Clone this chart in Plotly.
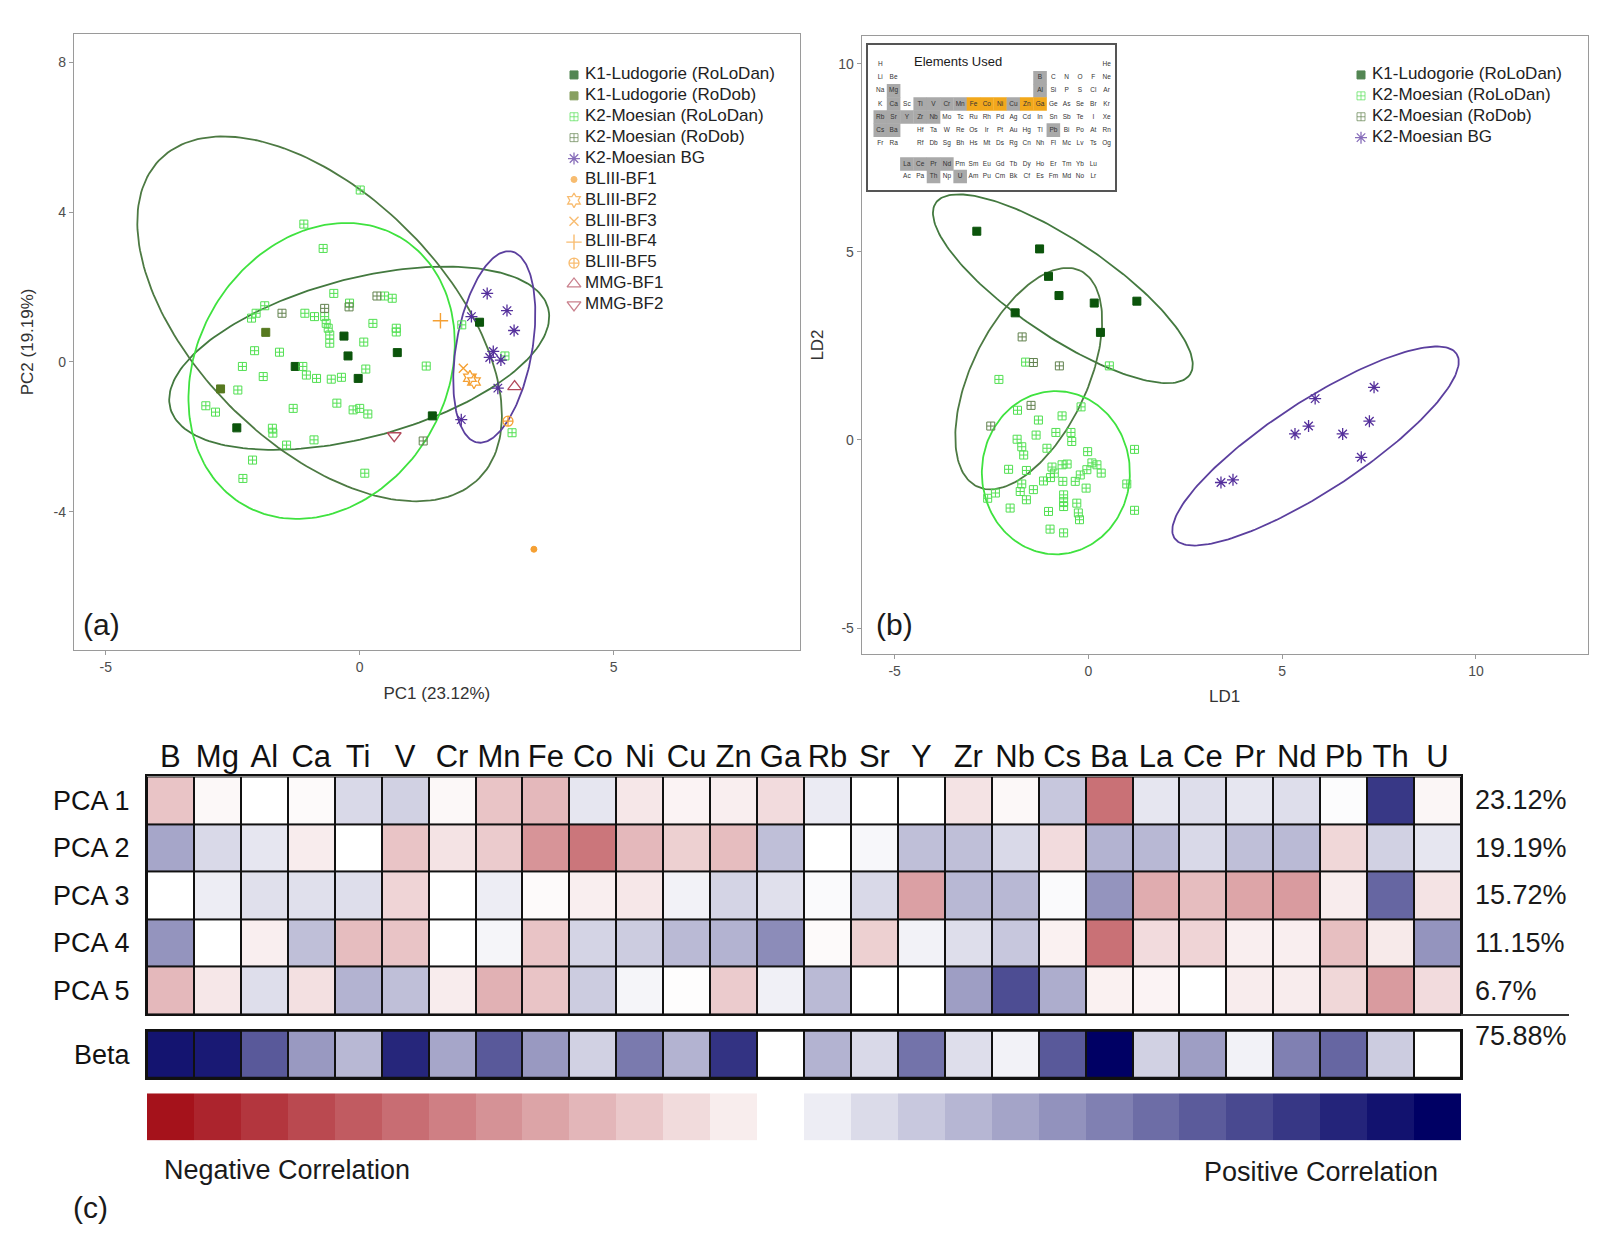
import numpy as np
import plotly.graph_objects as go

W, H = 1606, 1236
PAGE_OFFSET = 8  # the page body margin shifts the figure by this many px
FONT = "Liberation Sans, Arial, sans-serif"

# ---------------- panel (a): PCA scores ----------------
A_K1_ROLODAN_X = [2.36, -0.31, -0.23, 0.74, -1.27, -0.03, 1.43, -2.42]
A_K1_ROLODAN_Y = [1.06, 0.69, 0.16, 0.25, -0.12, -0.44, -1.44, -1.76]
A_K1_RODOB_X = [-1.85, -2.74]
A_K1_RODOB_Y = [0.79, -0.72]
A_K2_ROLODAN_X = [0.01, -1.10, -0.72, -0.51, -0.20, 0.49, 0.64, -1.87, -2.04, -2.13,
                  -1.08, -0.89, -0.69, -0.66, -0.62, 0.26, 0.72, 0.72, -0.59, -0.59,
                  0.08, -2.07, -1.58, -1.12, -1.05, -0.85, -0.56, -0.36, 0.12, 1.31,
                  -2.31, -1.90, -2.40, -3.03, -2.84, -1.31, -0.45, -0.13, 0.00, 0.16,
                  -1.72, -1.71, -0.90, -1.44, -2.11, -2.30, 0.10, 2.01, 2.86, 3.00]
A_K2_ROLODAN_Y = [4.59, 3.68, 3.03, 1.83, 1.57, 1.76, 1.70, 1.50, 1.30, 1.17,
                  1.30, 1.21, 1.21, 1.03, 0.90, 1.03, 0.90, 0.80, 0.72, 0.50,
                  0.53, 0.30, 0.26, -0.12, -0.35, -0.44, -0.46, -0.41, -0.19, -0.11,
                  -0.12, -0.39, -0.75, -1.17, -1.34, -1.24, -1.10, -1.28, -1.24, -1.39,
                  -1.77, -1.90, -2.08, -2.22, -2.62, -3.11, -2.97, 0.99, 0.16, -1.89]
A_K2_RODOB_X = [-1.53, -0.69, -0.21, 0.34, 1.25]
A_K2_RODOB_Y = [1.30, 1.43, 1.47, 1.76, -2.11]
A_K2_BG_X = [2.51, 2.90, 3.04, 2.20, 2.63, 2.56, 2.78, 2.72, 2.00]
A_K2_BG_Y = [1.83, 1.37, 0.84, 1.21, 0.28, 0.12, 0.05, -0.70, -1.54]
A_BF1_X, A_BF1_Y = [3.43], [-5.00]
A_BF2_X, A_BF2_Y = [2.17, 2.25], [-0.42, -0.52]
A_BF3_X, A_BF3_Y = [2.04], [-0.17]
A_BF4_X, A_BF4_Y = [1.59], [1.10]
A_BF5_X, A_BF5_Y = [2.92], [-1.58]
A_MMG1_X, A_MMG1_Y = [3.05], [-0.66]
A_MMG2_X, A_MMG2_Y = [0.68], [-1.97]

# ellipses: centre, major half-vector, minor half-vector (data units)
A_ELLIPSES = [
    ((-0.01, 0.10), (3.72, 1.335), (-0.40, 2.05), "#43793f"),   # K1 RoLoDan
    ((-0.79, 1.15), (3.14, -4.26), (1.74, 2.36), "#4d7a43"),    # K2 RoDob
    ((-0.75, -0.24), (1.53, 3.58), (-2.13, 1.67), "#3fe23f"),   # K2 RoLoDan
    ((2.65, 0.40), (0.332, 2.551), (-0.737, 0.176), "#5b3f9e"), # K2 BG
]

# ---------------- panel (b): LDA scores ----------------
B_K1_ROLODAN_X = [-2.88, -1.26, -1.03, -0.76, 0.15, 1.25, -1.89, 0.31]
B_K1_ROLODAN_Y = [5.55, 5.08, 4.35, 3.84, 3.64, 3.69, 3.38, 2.86]
B_K2_RODOB_X = [-1.71, -1.42, -0.75, -1.48, -2.52]
B_K2_RODOB_Y = [2.74, 2.06, 1.97, 0.92, 0.37]
B_K2_ROLODAN_X = [0.54, -1.62, -2.31, -0.19, -1.83, -1.29, -0.68, -1.35, -0.84, -0.45,
                  -0.43, -1.84, -1.72, -1.67, -1.07, -0.02, 1.19, -2.06, -1.60, -0.94,
                  -0.68, -0.55, 0.09, 0.22, 0.33, -0.04, -0.21, -0.34, -0.88, -0.98,
                  -1.16, -0.66, -0.06, -1.42, -1.72, -1.76, -2.40, -2.60, -1.60, 0.99,
                  -0.64, -0.64, -0.64, -0.30, -0.26, -0.23, -2.02, -1.03, 1.19, -0.99,
                  -0.64]
B_K2_ROLODAN_Y = [1.97, 2.07, 1.61, 0.88, 0.79, 0.53, 0.64, 0.13, 0.20, 0.20,
                  -0.04, 0.02, -0.18, -0.40, -0.22, -0.31, -0.25, -0.78, -0.81, -0.72,
                  -0.66, -0.64, -0.61, -0.66, -0.88, -0.79, -0.93, -1.10, -0.88, -1.00,
                  -1.09, -1.10, -1.28, -1.32, -1.17, -1.37, -1.41, -1.55, -1.59, -1.17,
                  -1.46, -1.64, -1.77, -1.68, -1.94, -2.12, -1.81, -1.90, -1.87, -2.37,
                  -2.47]
B_K2_BG_X = [5.85, 7.37, 5.68, 5.33, 6.56, 7.25, 7.04, 3.42, 3.73]
B_K2_BG_Y = [1.10, 1.40, 0.37, 0.16, 0.16, 0.50, -0.46, -1.13, -1.06]

B_ELLIPSES = [
    ((-0.66, 4.02), (3.28, -2.28), (0.69, 1.05), "#43793f"),
    ((-1.54, 1.63), (1.33, 2.87), (-1.35, 0.66), "#4d7a43"),
    ((-0.84, -0.87), (0.0, 2.17), (1.91, 0.0), "#3fe23f"),
    ((5.86, -0.16), (3.64, 2.45), (-0.64, 1.00), "#5b3f9e"),
]

# axis ticks (hyphen minus, as in the original)
A_XTICKS, A_XTICKTEXT = [-5, 0, 5], ["-5", "0", "5"]
A_YTICKS, A_YTICKTEXT = [-4, 0, 4, 8], ["-4", "0", "4", "8"]
B_XTICKS, B_XTICKTEXT = [-5, 0, 5, 10], ["-5", "0", "5", "10"]
B_YTICKS, B_YTICKTEXT = [-5, 0, 5, 10], ["-5", "0", "5", "10"]

# ---------------- periodic-table inset ----------------
PT_ROWS = [
    "H . . . . . . . . . . . . . . . . He",
    "Li Be . . . . . . . . . . B C N O F Ne",
    "Na Mg . . . . . . . . . . Al Si P S Cl Ar",
    "K Ca Sc Ti V Cr Mn Fe Co Ni Cu Zn Ga Ge As Se Br Kr",
    "Rb Sr Y Zr Nb Mo Tc Ru Rh Pd Ag Cd In Sn Sb Te I Xe",
    "Cs Ba . Hf Ta W Re Os Ir Pt Au Hg Tl Pb Bi Po At Rn",
    "Fr Ra . Rf Db Sg Bh Hs Mt Ds Rg Cn Nh Fl Mc Lv Ts Og",
]
PT_F_ROWS = [
    ". . La Ce Pr Nd Pm Sm Eu Gd Tb Dy Ho Er Tm Yb Lu",
    ". . Ac Pa Th Np U Am Pu Cm Bk Cf Es Fm Md No Lr",
]
PT_F_ROW_POS = [8.6, 9.55]
HIGHLIGHT = ["Fe", "Co", "Ni", "Zn", "Ga"]

# ---------------- panel (c): loadings heatmap ----------------
ELEMENTS = ["B", "Mg", "Al", "Ca", "Ti", "V", "Cr", "Mn", "Fe", "Co", "Ni", "Cu", "Zn", "Ga",
            "Rb", "Sr", "Y", "Zr", "Nb", "Cs", "Ba", "La", "Ce", "Pr", "Nd", "Pb", "Th", "U"]
PCA_ROWS = ["PCA 1", "PCA 2", "PCA 3", "PCA 4", "PCA 5"]
PCA1 = [-0.25, -0.03, 0.0, -0.02, 0.15, 0.18, -0.03, -0.25, -0.30, 0.10, -0.10, -0.05, -0.07, -0.15,
        0.08, 0.0, 0.0, -0.12, -0.03, 0.22, -0.60, 0.10, 0.13, 0.10, 0.13, 0.01, 0.78, -0.04]
PCA2 = [0.35, 0.15, 0.10, -0.08, 0.0, -0.25, -0.12, -0.22, -0.45, -0.58, -0.30, -0.20, -0.28, 0.25,
        0.0, 0.03, 0.25, 0.25, 0.15, -0.15, 0.30, 0.28, 0.15, 0.25, 0.27, -0.17, 0.18, 0.10]
PCA3 = [0.0, 0.07, 0.12, 0.12, 0.13, -0.18, 0.0, 0.07, -0.02, -0.07, -0.10, 0.05, 0.17, 0.12,
        0.02, 0.15, -0.40, 0.28, 0.28, 0.02, 0.42, -0.35, -0.28, -0.38, -0.42, -0.08, 0.60, -0.12]
PCA4 = [0.42, 0.0, -0.07, 0.25, -0.28, -0.25, 0.0, 0.04, -0.25, 0.17, 0.20, 0.27, 0.30, 0.45,
        -0.02, -0.20, 0.05, 0.13, 0.22, -0.06, -0.60, -0.15, -0.18, -0.07, -0.07, -0.27, -0.09, 0.42]
PCA5 = [-0.30, -0.10, 0.13, -0.13, 0.30, 0.25, -0.08, -0.33, -0.25, 0.20, 0.04, -0.01, -0.22, 0.06,
        0.27, 0.0, 0.0, 0.38, 0.70, 0.32, -0.06, -0.05, 0.0, -0.08, -0.08, -0.17, -0.42, -0.15]
BETA = [0.92, 0.90, 0.65, 0.40, 0.28, 0.85, 0.35, 0.65, 0.40, 0.18, 0.52, 0.30, 0.80, 0.0,
        0.30, 0.15, 0.55, 0.13, 0.05, 0.65, 1.0, 0.18, 0.38, 0.05, 0.50, 0.60, 0.20, 0.0]
PCA_VARIANCE = ["23.12%", "19.19%", "15.72%", "11.15%", "6.7%"]
TOTAL_VARIANCE = "75.88%"
SCALE_STEPS = [-1.0, -0.923, -0.846, -0.769, -0.692, -0.615, -0.538, -0.462, -0.385, -0.308,
               -0.231, -0.154, -0.077, 0.0, 0.071, 0.143, 0.214, 0.286, 0.357, 0.429,
               0.5, 0.571, 0.643, 0.714, 0.786, 0.857, 0.929, 1.0]

CORR_SCALE = [[0.0, "#a5121b"], [0.5, "#ffffff"], [1.0, "#000064"]]

DARK_GREEN = "#0b540b"
OLIVE = "#56791f"
LIGHT_GREEN = "#52e052"
GREY_GREEN = "#62824f"
PURPLE = "#55309c"
ORANGE = "#f5a033"
MAROON = "#b24a5b"

# marker style per group: symbol, colour, size, line width
STYLE = {
    "K1-Ludogorie (RoLoDan)": ("square", DARK_GREEN, 8, 1.0),
    "K1-Ludogorie (RoDob)": ("square", OLIVE, 8, 1.0),
    "K2-Moesian (RoLoDan)": ("square-cross-open", LIGHT_GREEN, 8, 1.0),
    "K2-Moesian (RoDob)": ("square-cross-open", GREY_GREEN, 8, 1.0),
    "K2-Moesian BG": ("asterisk-open", PURPLE, 10, 1.3),
    "BLIII-BF1": ("circle", ORANGE, 6, 1.0),
    "BLIII-BF2": ("hexagram-open", ORANGE, 11, 1.3),
    "BLIII-BF3": ("x-thin-open", ORANGE, 9, 1.4),
    "BLIII-BF4": ("cross-thin-open", ORANGE, 11, 1.4),
    "BLIII-BF5": ("circle-cross-open", ORANGE, 10, 1.3),
    "MMG-BF1": ("triangle-up-open", MAROON, 12, 1.3),
    "MMG-BF2": ("triangle-down-open", MAROON, 12, 1.3),
}

A_SERIES = [
    ("K1-Ludogorie (RoLoDan)", A_K1_ROLODAN_X, A_K1_ROLODAN_Y),
    ("K1-Ludogorie (RoDob)", A_K1_RODOB_X, A_K1_RODOB_Y),
    ("K2-Moesian (RoLoDan)", A_K2_ROLODAN_X, A_K2_ROLODAN_Y),
    ("K2-Moesian (RoDob)", A_K2_RODOB_X, A_K2_RODOB_Y),
    ("K2-Moesian BG", A_K2_BG_X, A_K2_BG_Y),
    ("BLIII-BF1", A_BF1_X, A_BF1_Y),
    ("BLIII-BF2", A_BF2_X, A_BF2_Y),
    ("BLIII-BF3", A_BF3_X, A_BF3_Y),
    ("BLIII-BF4", A_BF4_X, A_BF4_Y),
    ("BLIII-BF5", A_BF5_X, A_BF5_Y),
    ("MMG-BF1", A_MMG1_X, A_MMG1_Y),
    ("MMG-BF2", A_MMG2_X, A_MMG2_Y),
]
B_SERIES = [
    ("K1-Ludogorie (RoLoDan)", B_K1_ROLODAN_X, B_K1_ROLODAN_Y),
    ("K2-Moesian (RoLoDan)", B_K2_ROLODAN_X, B_K2_ROLODAN_Y),
    ("K2-Moesian (RoDob)", B_K2_RODOB_X, B_K2_RODOB_Y),
    ("K2-Moesian BG", B_K2_BG_X, B_K2_BG_Y),
]


def px_x(p):
    return (p - PAGE_OFFSET) / W


def px_y(p):
    return 1 - (p - PAGE_OFFSET) / H


def ellipse_xy(c, u, v, n=200):
    t = np.linspace(0, 2 * np.pi, n)
    return c[0] + u[0] * np.cos(t) + v[0] * np.sin(t), c[1] + u[1] * np.cos(t) + v[1] * np.sin(t)


def marker_of(names):
    st = [STYLE[n] for n in names]
    return dict(symbol=[s[0] for s in st], color=[s[1] for s in st], size=[s[2] for s in st],
                line=dict(color=[s[1] for s in st], width=[s[3] for s in st]))


fig = go.Figure()

# ellipses first, then the points
for ells, xa, ya in ((A_ELLIPSES, "x", "y"), (B_ELLIPSES, "x2", "y2")):
    for c, u, v, col in ells:
        ex, ey = ellipse_xy(c, u, v)
        fig.add_trace(go.Scatter(x=ex, y=ey, mode="lines", line=dict(color=col, width=1.8),
                                 showlegend=False, hoverinfo="skip", xaxis=xa, yaxis=ya))

for series, xa, ya in ((A_SERIES, "x", "y"), (B_SERIES, "x2", "y2")):
    for name, xs, ys in series:
        sym, col, size, lw = STYLE[name]
        fig.add_trace(go.Scatter(
            x=xs, y=ys, mode="markers", name=name, xaxis=xa, yaxis=ya, showlegend=False,
            marker=dict(symbol=sym, color=col, size=size, line=dict(color=col, width=lw)),
        ))

# legends drawn on their own category axes (one row per group)
for series, xa, ya in ((A_SERIES, "x7", "y7"), (B_SERIES, "x8", "y8")):
    names = [s[0] for s in series]
    fig.add_trace(go.Scatter(x=[0] * len(names), y=names, mode="markers", xaxis=xa, yaxis=ya,
                             marker=marker_of(names), cliponaxis=False,
                             showlegend=False, hoverinfo="skip"))
    fig.add_trace(go.Scatter(x=[11] * len(names), y=names, mode="text", text=names,
                             textposition="middle right", xaxis=xa, yaxis=ya, cliponaxis=False,
                             textfont=dict(size=17, color="#222222", family=FONT),
                             showlegend=False, hoverinfo="skip"))

# periodic table inset
pt_sym, pt_col, pt_row = [], [], []
for r, row in enumerate(PT_ROWS, start=1):
    for cidx, s in enumerate(row.split(), start=1):
        if s != ".":
            pt_sym.append(s); pt_col.append(cidx); pt_row.append(r)
for rpos, row in zip(PT_F_ROW_POS, PT_F_ROWS):
    for cidx, s in enumerate(row.split(), start=1):
        if s != ".":
            pt_sym.append(s); pt_col.append(cidx); pt_row.append(rpos)

fill_x, fill_y, fill_c = [], [], []
for s, cc, rr in zip(pt_sym, pt_col, pt_row):
    if s in ELEMENTS:
        fill_x.append(cc); fill_y.append(rr)
        fill_c.append("#f2a81c" if s in HIGHLIGHT else "#a9a9a9")
fig.add_trace(go.Scatter(x=fill_x, y=fill_y, mode="markers", xaxis="x3", yaxis="y3",
                         marker=dict(symbol="square", size=13.6, color=fill_c, line=dict(width=0)),
                         showlegend=False, hoverinfo="skip"))
fig.add_trace(go.Scatter(x=pt_col, y=pt_row, mode="text", text=pt_sym, xaxis="x3", yaxis="y3",
                         textfont=dict(size=6.5, color="#333333", family=FONT),
                         showlegend=False, hoverinfo="text"))

# heatmaps
fig.add_trace(go.Heatmap(z=[PCA1, PCA2, PCA3, PCA4, PCA5], x=ELEMENTS, y=PCA_ROWS,
                         colorscale=CORR_SCALE, zmin=-1, zmax=1, showscale=False,
                         xgap=2, ygap=2, xaxis="x4", yaxis="y4"))
fig.add_trace(go.Heatmap(z=[BETA], x=ELEMENTS, y=["Beta"],
                         colorscale=CORR_SCALE, zmin=-1, zmax=1, showscale=False,
                         xgap=2, ygap=2, xaxis="x5", yaxis="y5"))
fig.add_trace(go.Heatmap(z=[SCALE_STEPS], colorscale=CORR_SCALE, zmin=-1, zmax=1,
                         showscale=False, xaxis="x6", yaxis="y6", hoverinfo="z"))

frame = dict(showline=True, mirror=True, linecolor="#9a9a9a", linewidth=1, showgrid=False,
             zeroline=False, ticks="outside", ticklen=4, tickcolor="#9a9a9a",
             tickfont=dict(size=14, color="#4d4d4d"), automargin=False)
title_font = dict(size=17, color="#333333")
hidden = dict(showgrid=False, zeroline=False, showticklabels=False, ticks="", automargin=False,
              showline=False)
cell_axis = dict(showline=True, mirror=True, linecolor="#111111", linewidth=2, showgrid=False,
                 zeroline=False, ticks="", automargin=False)

layout = dict(
    width=W, height=H, template="none",
    margin=dict(l=0, r=0, t=0, b=0),
    paper_bgcolor="white", plot_bgcolor="white",
    font=dict(family=FONT, color="#222222"),
    showlegend=False,
    xaxis=dict(frame, domain=[px_x(73.8), px_x(800)], range=[-5.63, 8.67],
               tickvals=A_XTICKS, ticktext=A_XTICKTEXT, anchor="y",
               title=dict(text="PC1 (23.12%)", font=title_font, standoff=13)),
    yaxis=dict(frame, domain=[px_y(650), px_y(33.8)], range=[-7.69, 8.76],
               tickvals=A_YTICKS, ticktext=A_YTICKTEXT, anchor="x",
               title=dict(text="PC2 (19.19%)", font=title_font, standoff=15)),
    xaxis2=dict(frame, domain=[px_x(861.7), px_x(1587.6)], range=[-5.85, 12.88],
                tickvals=B_XTICKS, ticktext=B_XTICKTEXT, anchor="y2",
                title=dict(text="LD1", font=title_font, standoff=12)),
    yaxis2=dict(frame, domain=[px_y(654), px_y(36)], range=[-5.69, 10.74],
                tickvals=B_YTICKS, ticktext=B_YTICKTEXT, anchor="x2",
                title=dict(text="LD2", font=title_font, standoff=10)),
    xaxis3=dict(hidden, domain=[px_x(868.3), px_x(1115)], range=[0.1, 18.63], anchor="y3",
                showline=True, mirror=True, linecolor="#555555", linewidth=2),
    yaxis3=dict(hidden, domain=[px_y(189.7), px_y(44.7)], range=[10.56, -0.53], anchor="x3",
                showline=True, mirror=True, linecolor="#555555", linewidth=2),
    xaxis4=dict(cell_axis, domain=[px_x(147), px_x(1461)], side="top", type="category",
                anchor="y4", tickfont=dict(size=31, color="#111111"), ticklabelstandoff=-5),
    yaxis4=dict(cell_axis, domain=[px_y(1014.3), px_y(776.4)], type="category",
                autorange="reversed", anchor="x4",
                tickfont=dict(size=27, color="#111111"), ticklabelstandoff=10),
    xaxis5=dict(cell_axis, domain=[px_x(147), px_x(1461)], type="category", anchor="y5",
                showticklabels=False),
    yaxis5=dict(cell_axis, domain=[px_y(1077.9), px_y(1030.7)], type="category", anchor="x5",
                tickfont=dict(size=27, color="#111111"), ticklabelstandoff=10),
    xaxis6=dict(hidden, domain=[px_x(147), px_x(1461)], anchor="y6"),
    yaxis6=dict(hidden, domain=[px_y(1140.5), px_y(1093.3)], anchor="x6"),
    # legend rows: 20.9 px apart
    xaxis7=dict(hidden, domain=[px_x(574), px_x(794)], range=[0, 220], anchor="y7"),
    yaxis7=dict(hidden, domain=[px_y(315.3), px_y(64.5)], type="category",
                range=[len(A_SERIES) - 0.5, -0.5], anchor="x7"),
    xaxis8=dict(hidden, domain=[px_x(1361), px_x(1581)], range=[0, 220], anchor="y8"),
    yaxis8=dict(hidden, domain=[px_y(148.1), px_y(64.5)], type="category",
                range=[len(B_SERIES) - 0.5, -0.5], anchor="x8"),
)
fig.update_layout(**layout)

# black backing behind cells so the gaps read as grid lines
for xa, ya in (("x4", "y4"), ("x5", "y5")):
    fig.add_shape(type="rect", xref=f"{xa} domain", yref=f"{ya} domain", x0=0, x1=1, y0=0, y1=1,
                  fillcolor="#111111", line=dict(width=0), layer="below")
fig.add_shape(type="line", xref="paper", yref="paper", x0=px_x(1461), x1=px_x(1569),
              y0=px_y(1015), y1=px_y(1015), line=dict(color="#333333", width=2))

ann = [
    dict(text="(a)", x=px_x(101.5), y=px_y(624.6), font=dict(size=30)),
    dict(text="(b)", x=px_x(894.3), y=px_y(624.6), font=dict(size=30)),
    dict(text="(c)", x=px_x(90.3), y=px_y(1207), font=dict(size=30)),
    dict(text="Elements Used", xref="x3", yref="y3", x=6.87, y=0.75, font=dict(size=13)),
    dict(text=TOTAL_VARIANCE, x=px_x(1473), y=px_y(1036), xanchor="left", font=dict(size=27)),
    dict(text="Negative Correlation", x=px_x(287), y=px_y(1170), font=dict(size=27)),
    dict(text="Positive Correlation", x=px_x(1321), y=px_y(1172), font=dict(size=27)),
]
for row, pct in zip(PCA_ROWS, PCA_VARIANCE):
    ann.append(dict(text=pct, xref="paper", yref="y4", x=px_x(1473), y=row, xanchor="left",
                    font=dict(size=27)))
for a in ann:
    a.setdefault("xref", "paper")
    a.setdefault("yref", "paper")
    a.setdefault("xanchor", "center")
    a.setdefault("yanchor", "middle")
    a.setdefault("showarrow", False)
    a["font"] = dict(family=FONT, color="#1a1a1a", **a["font"])
fig.update_layout(annotations=ann)

fig.write_html("out.html")
